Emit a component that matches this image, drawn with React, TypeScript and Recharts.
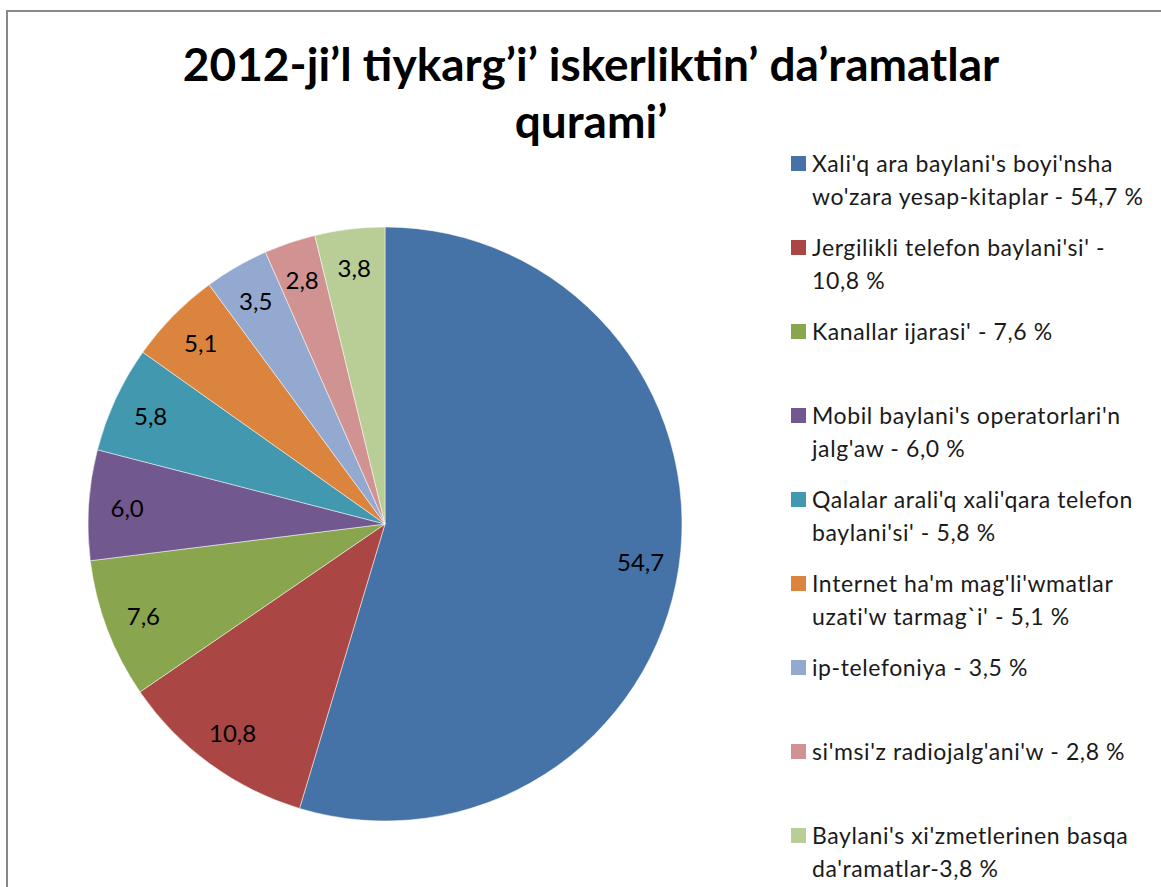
import { PieChart, Pie, Cell, Legend } from "recharts";

const TITLE_LINES = ["2012-ji’l tiykarg’i’ iskerliktin’ da’ramatlar", "qurami’"];

const CATEGORIES = [
  "Xali'q ara baylani's boyi'nsha\nwo'zara yesap-kitaplar - 54,7 %",
  "Jergilikli telefon baylani'si' -\n10,8 %",
  "Kanallar ijarasi' - 7,6 %",
  "Mobil baylani's operatorlari'n\njalg'aw - 6,0 %",
  "Qalalar arali'q xali'qara telefon\nbaylani'si' - 5,8 %",
  "Internet ha'm mag'li'wmatlar\nuzati'w tarmag`i' - 5,1 %",
  "ip-telefoniya - 3,5 %",
  "si'msi'z radiojalg'ani'w - 2,8 %",
  "Baylani's xi'zmetlerinen basqa\nda'ramatlar-3,8 %",
];

const VALUES = [54.7, 10.8, 7.6, 6.0, 5.8, 5.1, 3.5, 2.8, 3.8];

const COLORS = [
  "#4572A7",
  "#AA4643",
  "#89A54E",
  "#71588F",
  "#4198AF",
  "#DB843D",
  "#93A9CF",
  "#D19392",
  "#B9CD96",
];

const data = CATEGORIES.map((name, i) => ({ name, value: VALUES[i] }));

const FONT = "Lato, 'Open Sans', sans-serif";
const RADIAN = Math.PI / 180;

function renderLabel(props: any) {
  const { cx, cy, midAngle, outerRadius, value } = props;
  const r = outerRadius * 0.87;
  const x = cx + r * Math.cos(-midAngle * RADIAN);
  const y = cy + r * Math.sin(-midAngle * RADIAN);
  return (
    <text
      x={x}
      y={y}
      fill="#000"
      fontSize={24}
      fontFamily={FONT}
      textAnchor="middle"
      dominantBaseline="central"
    >
      {Number(value).toFixed(1).replace(".", ",")}
    </text>
  );
}

function LegendList(props: any) {
  // keep the original category order
  const items = [...(props.payload || [])].sort(
    (a: any, b: any) => CATEGORIES.indexOf(a.value) - CATEGORIES.indexOf(b.value)
  );
  return (
    <div style={{ fontFamily: FONT }}>
      {items.map((entry: any, i: number) => (
        <div key={`leg-${i}`} style={{ height: 84, display: "flex", alignItems: "flex-start" }}>
          <div
            style={{
              width: 15,
              height: 15,
              marginTop: 9,
              marginRight: 6,
              flexShrink: 0,
              background: entry.color,
            }}
          />
          <div
            style={{
              whiteSpace: "pre",
              fontSize: 23,
              letterSpacing: 0.6,
              lineHeight: "33px",
              color: "#1a1a1a",
            }}
          >
            {entry.value}
          </div>
        </div>
      ))}
    </div>
  );
}

export default function App() {
  return (
    <div
      style={{
        position: "absolute",
        left: 0,
        top: 0,
        width: 1161,
        height: 887,
        overflow: "hidden",
        background: "#fff",
      }}
    >
      <div
        style={{
          position: "absolute",
          left: 6,
          top: 10,
          width: 1200,
          height: 1000,
          borderLeft: "2px solid #888",
          borderTop: "2px solid #888",
        }}
      />
      <div
        style={{
          position: "absolute",
          left: 141,
          top: 35,
          width: 900,
          textAlign: "center",
          fontFamily: FONT,
          fontWeight: 700,
          fontSize: 46,
          lineHeight: "57px",
          color: "#000",
        }}
      >
        {TITLE_LINES.map((t, i) => (
          <div key={`t-${i}`}>{t}</div>
        ))}
      </div>
      <div style={{ position: "absolute", left: 0, top: 0 }}>
        <PieChart width={1161} height={887} margin={{ top: 0, right: 0, bottom: 0, left: 0 }}>
          <Pie
            data={data}
            dataKey="value"
            nameKey="name"
            cx={385}
            cy={524}
            outerRadius={297}
            startAngle={90}
            endAngle={-270}
            stroke="#ffffff"
            strokeWidth={0.5}
            label={renderLabel}
            labelLine={false}
            isAnimationActive={false}
          >
            {data.map((_, i) => (
              <Cell key={`cell-${i}`} fill={COLORS[i]} />
            ))}
          </Pie>
          <Legend
            layout="vertical"
            verticalAlign="top"
            align="right"
            content={<LegendList />}
            wrapperStyle={{ position: "absolute", left: 791, top: 147, width: 370 }}
          />
        </PieChart>
      </div>
    </div>
  );
}
